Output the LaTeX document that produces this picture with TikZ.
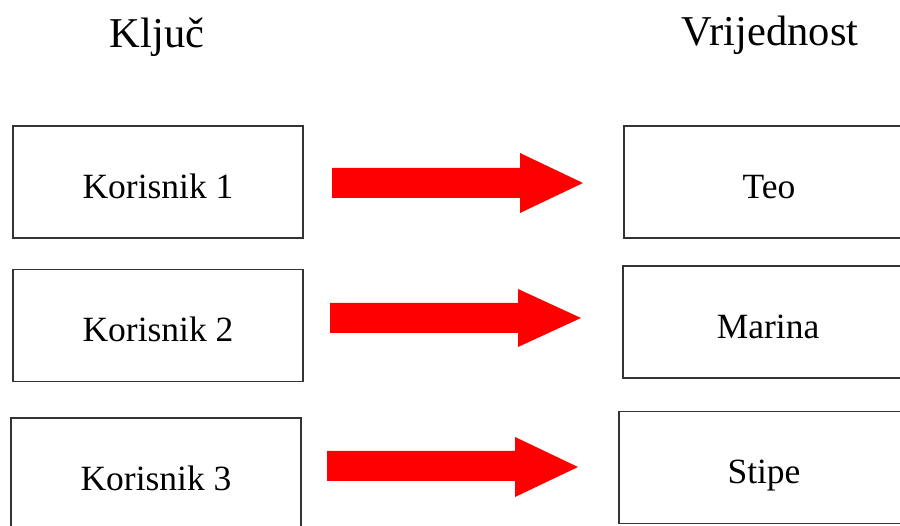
\documentclass[tikz,border=0pt]{standalone}
\usepackage{fontspec}
\setmainfont{Liberation Serif}
\tikzset{
  box/.style={draw=black!80, line width=1.3pt, minimum width=290pt, minimum height=112pt, inner sep=0pt, text height=33pt, text depth=0pt, font=\fontsize{35.5}{40}\selectfont},
  title/.style={font=\fontsize{42.5}{48}\selectfont, inner sep=0pt},
  blockarrow/.style={fill=red, draw=none}
}
\begin{document}
\begin{tikzpicture}[x=1pt,y=-1pt]
\useasboundingbox (0,0) rectangle (900,526);
\clip (0,0) rectangle (900,526);
\node[title] (k) at (157,37) {Ključ};
\node[title] (v) at (770,35) {Vrijednost};
\node[box] (l1) at (158,182) {Korisnik 1};
\node[box] (l2) at (158,325.5) {Korisnik 2};
\node[box] (l3) at (156,474) {Korisnik 3};
\node[box] (r1) at (769,182) {Teo};
\node[box] (r2) at (768,322) {Marina};
\node[box] (r3) at (764,467.5) {Stipe};
\fill[blockarrow] (332,168) -- (520,168) -- (520,153) -- (583,183) -- (520,213) -- (520,198) -- (332,198) -- cycle;
\fill[blockarrow] (330,303) -- (518,303) -- (518,289) -- (581,318) -- (518,347) -- (518,333) -- (330,333) -- cycle;
\fill[blockarrow] (327,451) -- (515,451) -- (515,437) -- (578,467) -- (515,497) -- (515,481) -- (327,481) -- cycle;
\end{tikzpicture}
\end{document}
